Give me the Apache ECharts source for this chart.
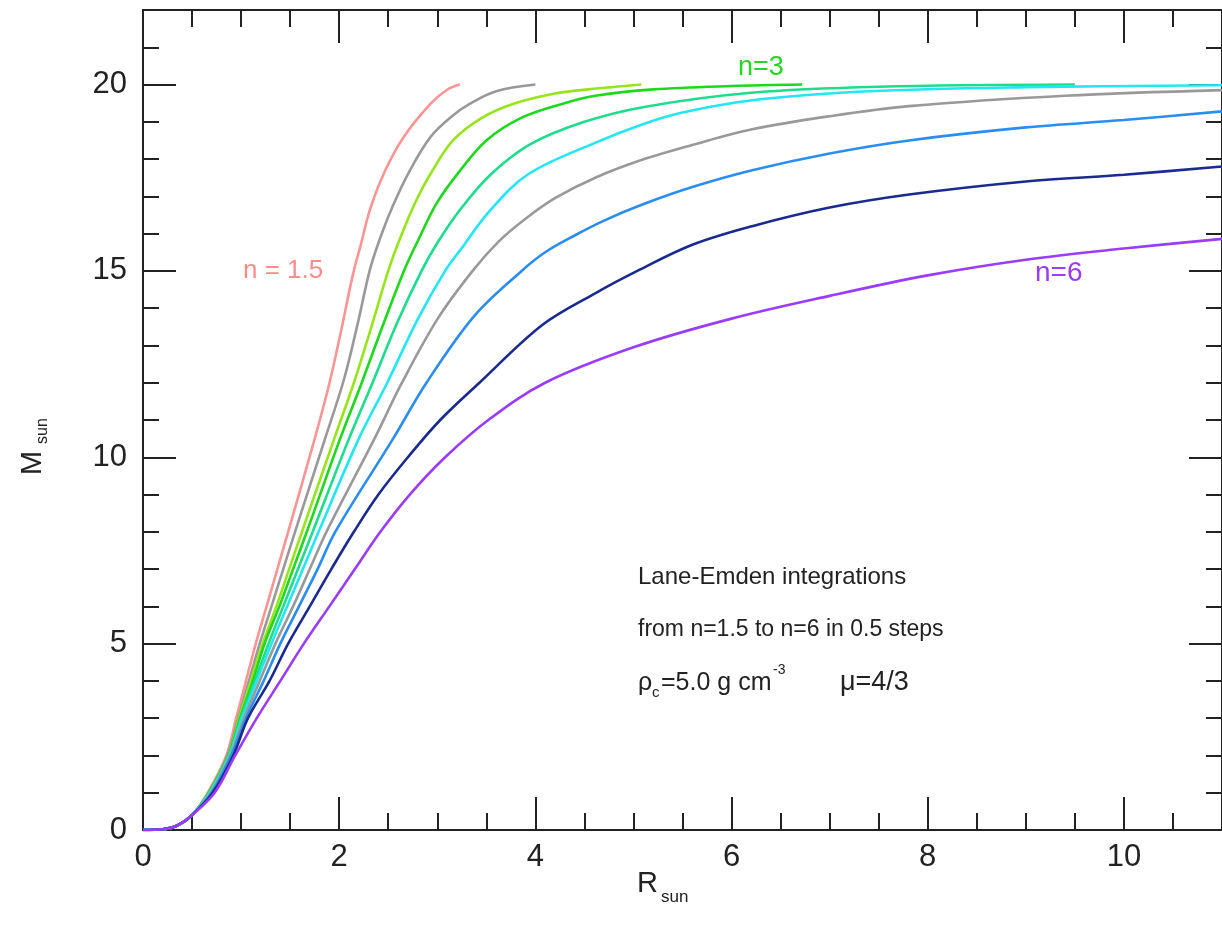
<!DOCTYPE html>
<html>
<head>
<meta charset="utf-8">
<script src="https://cdn.jsdelivr.net/npm/echarts/dist/echarts.min.js"></script>
<style>
html,body{margin:0;padding:0;background:#fff;}
#chart{width:1222px;height:933px;}
</style>
</head>
<body>
<div id="chart"></div>
<script>
// ---- data (R in R_sun, M in M_sun) ----
const xTickLabels = [0, 2, 4, 6, 8, 10];
const yTickLabels = [0, 5, 10, 15, 20];

const nValues = [1.5, 2, 2.5, 3, 3.5, 4, 4.5, 5, 5.5, 6];
const curveColors = ['#ff9494', '#999999', '#96e41c', '#1ed81e', '#1edc8c', '#22e6f2', '#999999', '#2a8df2', '#1b2a8e', '#9a3cfa'];

const r15 = [0, 0.2, 0.35, 0.5, 0.66, 0.85, 0.95, 1.05, 1.15, 1.26, 1.37, 1.48, 1.74, 1.90, 2.02, 2.14, 2.22, 2.32, 2.47, 2.66, 2.93, 3.10, 3.23];
const m15 = [0, 0.02, 0.12, 0.4, 1, 2, 3, 4, 5, 6, 7, 8, 10.4, 11.98, 13.4, 14.9, 15.7, 16.7, 17.7, 18.6, 19.48, 19.86, 20.0];

const r20 = [0, 0.2, 0.35, 0.5, 0.67, 0.86, 0.97, 1.08, 1.19, 1.31, 1.43, 1.55, 1.85, 2.05, 2.19, 2.31, 2.40, 2.54, 2.72, 2.93, 3.15, 3.33, 3.6, 4.0];
const m20 = [0, 0.02, 0.12, 0.4, 1, 2, 3, 4, 5, 6, 7, 8, 10.45, 12.1, 13.6, 15.0, 15.75, 16.7, 17.69, 18.59, 19.15, 19.48, 19.82, 20.0];

const r25 = [0, 0.2, 0.35, 0.5, 0.67, 0.87, 0.98, 1.10, 1.22, 1.36, 1.49, 1.62, 1.95, 2.15, 2.34, 2.50, 2.61, 2.77, 2.93, 3.16, 3.45, 3.77, 4.2, 4.54, 5.08];
const m25 = [0, 0.02, 0.12, 0.4, 1, 2, 3, 4, 5, 6, 7, 8, 10.5, 12.0, 13.6, 15.0, 15.8, 16.8, 17.6, 18.5, 19.1, 19.48, 19.76, 19.87, 20.0];

const r30 = [0, 0.2, 0.35, 0.5, 0.67, 0.87, 0.99, 1.12, 1.24, 1.39, 1.53, 1.67, 2.01, 2.23, 2.44, 2.66, 2.81, 2.99, 3.22, 3.50, 3.85, 4.27, 4.61, 5.2, 6.0, 6.72];
const m30 = [0, 0.02, 0.12, 0.4, 1, 2, 3, 4, 5, 6, 7, 8, 10.5, 12.0, 13.5, 15.0, 15.85, 16.8, 17.65, 18.5, 19.1, 19.48, 19.7, 19.87, 19.96, 20.0];

const r35 = [0, 0.2, 0.35, 0.5, 0.68, 0.88, 1.00, 1.14, 1.28, 1.43, 1.58, 1.73, 2.10, 2.34, 2.59, 2.84, 3.00, 3.25, 3.55, 3.95, 4.5, 5.11, 6.2, 7.5, 9.5];
const m35 = [0, 0.02, 0.12, 0.4, 1, 2, 3, 4, 5, 6, 7, 8, 10.5, 12.0, 13.6, 15.0, 15.75, 16.7, 17.6, 18.4, 19.0, 19.4, 19.78, 19.94, 20.0];

const r40 = [0, 0.2, 0.35, 0.5, 0.68, 0.88, 1.01, 1.16, 1.31, 1.47, 1.63, 1.79, 2.20, 2.49, 2.80, 3.08, 3.26, 3.53, 3.93, 4.62, 5.11, 5.5, 6.21, 7.4, 9.0, 11.0];
const m40 = [0, 0.02, 0.12, 0.4, 1, 2, 3, 4, 5, 6, 7, 8, 10.5, 12.0, 13.7, 15.0, 15.65, 16.6, 17.6, 18.45, 18.95, 19.25, 19.58, 19.82, 19.93, 19.98];

const r45 = [0, 0.2, 0.35, 0.5, 0.69, 0.89, 1.03, 1.19, 1.35, 1.53, 1.70, 1.87, 2.36, 2.64, 3.00, 3.36, 3.63, 3.9, 4.2, 4.61, 5.11, 5.6, 6.21, 7.0, 7.81, 9.4, 11.0];
const m45 = [0, 0.02, 0.12, 0.4, 1, 2, 3, 4, 5, 6, 7, 8, 10.5, 12.0, 13.7, 15.0, 15.8, 16.4, 16.95, 17.5, 18.0, 18.38, 18.8, 19.15, 19.42, 19.7, 19.85];

const r50 = [0, 0.2, 0.35, 0.5, 0.70, 0.90, 1.05, 1.23, 1.40, 1.59, 1.78, 1.96, 2.55, 2.89, 3.38, 3.86, 4.1, 4.4, 4.7, 5.11, 5.6, 6.21, 7.0, 7.81, 9.0, 10.0, 11.0];
const m50 = [0, 0.02, 0.12, 0.4, 1, 2, 3, 4, 5, 6, 7, 8, 10.5, 12.0, 13.8, 15.0, 15.5, 15.95, 16.35, 16.8, 17.25, 17.7, 18.15, 18.5, 18.85, 19.05, 19.28];

const r55 = [0, 0.2, 0.35, 0.5, 0.71, 0.92, 1.07, 1.29, 1.48, 1.70, 1.92, 2.15, 2.40, 2.70, 3.03, 3.43, 4.07, 4.61, 5.04, 5.6, 6.21, 7.0, 7.81, 9.0, 10.0, 11.0];
const m55 = [0, 0.02, 0.12, 0.4, 1, 2, 3, 4, 5, 6, 7, 8, 9, 10, 11, 12, 13.55, 14.4, 15.0, 15.7, 16.2, 16.7, 17.05, 17.4, 17.58, 17.8];

const r60 = [0, 0.2, 0.35, 0.5, 0.73, 0.94, 1.16, 1.40, 1.64, 1.90, 2.16, 2.42, 2.72, 3.08, 3.52, 4.10, 5.0, 6.0, 7.0, 8.0, 9.0, 10.0, 11.0];
const m60 = [0, 0.02, 0.12, 0.4, 1, 2, 3, 4, 5, 6, 7, 8, 9, 10, 11, 12, 12.95, 13.72, 14.33, 14.88, 15.3, 15.6, 15.86];

const curveR = [r15, r20, r25, r30, r35, r40, r45, r50, r55, r60];
const curveM = [m15, m20, m25, m30, m35, m40, m45, m50, m55, m60];

// ---- chart ----
const FONT = "'Liberation Sans', Arial, Helvetica, sans-serif";
const INK = '#222';
const chart = echarts.init(document.getElementById('chart'), null, {renderer: 'canvas'});

function xAx(pos, interval, len, labels) {
  return {
    type: 'value', position: pos, min: 0, max: 11, interval: interval,
    axisLine: {show: true, onZero: false, lineStyle: {color: INK, width: 2}},
    axisTick: {show: true, inside: true, length: len, lineStyle: {color: INK, width: 2}},
    axisLabel: labels ? {
      show: true, fontSize: 31, color: INK, fontFamily: FONT, margin: 12, showMaxLabel: false,
      formatter: v => (xTickLabels.indexOf(v) >= 0 ? String(v) : '')
    } : {show: false},
    splitLine: {show: false}, minorTick: {show: false}
  };
}
function yAx(pos, interval, len, labels) {
  return {
    type: 'value', position: pos, min: 0, max: 22, interval: interval,
    axisLine: {show: true, onZero: false, lineStyle: {color: INK, width: 2}},
    axisTick: {show: true, inside: true, length: len, lineStyle: {color: INK, width: 2}},
    axisLabel: labels ? {
      show: true, fontSize: 31, color: INK, fontFamily: FONT, margin: 16, showMaxLabel: false,
      formatter: v => (yTickLabels.indexOf(v) >= 0 ? String(v) : '')
    } : {show: false},
    splitLine: {show: false}, minorTick: {show: false}
  };
}

const series = nValues.map((n, i) => ({
  name: 'n=' + n,
  type: 'line',
  xAxisIndex: 0, yAxisIndex: 0,
  data: curveR[i].map((r, k) => [r, curveM[i][k]]),
  showSymbol: false,
  smooth: 0.35,
  lineStyle: {color: curveColors[i], width: 2.6},
  itemStyle: {color: curveColors[i]},
  z: 2 + i,
  silent: true
}));

function txt(x, y, s, size, color, extra) {
  return Object.assign({
    type: 'text', x: x, y: y, silent: true,
    style: {text: s, fontSize: size, fontFamily: FONT, fill: color, align: 'left', verticalAlign: 'middle'}
  }, extra || {});
}

chart.setOption({
  animation: false,
  backgroundColor: '#fff',
  grid: {left: 143, top: 10, right: -12, bottom: 103, containLabel: false},
  xAxis: [xAx('bottom', 2, 33, true), xAx('bottom', 0.5, 17, false), xAx('top', 2, 33, false), xAx('top', 0.5, 17, false)],
  yAxis: [yAx('left', 5, 33, true), yAx('left', 1, 16, false), yAx('right', 5, 33, false), yAx('right', 1, 16, false)],
  series: series,
  graphic: [
    // axis names
    txt(33, 463, 'M', 29, INK, {rotation: Math.PI / 2, style: {text: 'M', fontSize: 29, fontFamily: FONT, fill: INK, align: 'center', verticalAlign: 'middle'}}),
    txt(43, 431, 'sun', 16, INK, {rotation: Math.PI / 2, style: {text: 'sun', fontSize: 16, fontFamily: FONT, fill: INK, align: 'center', verticalAlign: 'middle'}}),
    txt(637, 884, 'R', 29, INK),
    txt(661, 897, 'sun', 17, INK),
    // curve labels
    txt(243, 271, 'n = 1.5', 26, '#ff8c8c'),
    txt(738, 68, 'n=3', 27, '#22d822'),
    txt(1035, 273, 'n=6', 28, '#9a3cfa'),
    // annotation block
    txt(638, 577, 'Lane-Emden integrations', 24, INK),
    txt(638, 630, 'from n=1.5 to n=6 in 0.5 steps', 23, INK),
    txt(638, 683, 'ρ', 25, INK),
    txt(652, 693, 'c', 15, INK),
    txt(661, 683, '=5.0 g cm', 25, INK),
    txt(773, 670, '-3', 14, INK),
    txt(840, 683, 'μ=4/3', 27, INK)
  ]
});
</script>
</body>
</html>
